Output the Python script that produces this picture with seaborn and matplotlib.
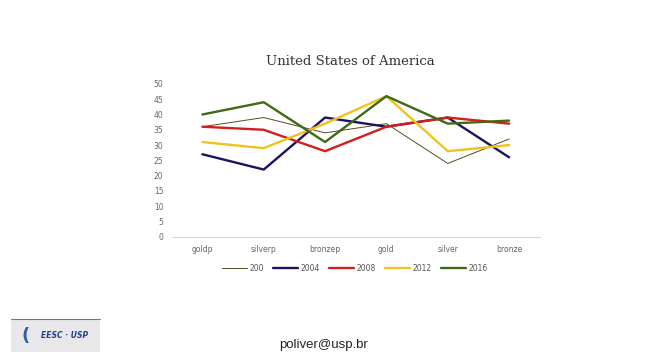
import matplotlib
matplotlib.use("Agg")
import matplotlib.pyplot as plt
import seaborn as sns
import pandas as pd
from matplotlib.patches import Rectangle

categories = ["goldp", "silverp", "bronzep", "gold", "silver", "bronze"]
series_names = ["200", "2004", "2008", "2012", "2016"]
v200 = [36, 39, 34, 37, 24, 32]
v2004 = [27, 22, 39, 36, 39, 26]
v2008 = [36, 35, 28, 36, 39, 37]
v2012 = [31, 29, 37, 46, 28, 30]
v2016 = [40, 44, 31, 46, 37, 38]
yticks = [0, 5, 10, 15, 20, 25, 30, 35, 40, 45, 50]

values = [v200, v2004, v2008, v2012, v2016]
rows = []
for name, vals in zip(series_names, values):
    for i, (c, v) in enumerate(zip(categories, vals)):
        rows.append({"pos": i, "cat": c, "series": name, "value": v})
df = pd.DataFrame(rows)

colors = ["#5a4a22", "#1c1260", "#d0201c", "#f2c21a", "#3e6a12"]
widths = [0.7, 1.7, 1.7, 1.7, 1.7]

sns.set_style("white")
fig = plt.figure(figsize=(6.48, 3.6), dpi=100)
ax = fig.add_axes([0.265, 0.342, 0.568, 0.425])

for name, col, lw in zip(series_names, colors, widths):
    sub = df[df["series"] == name]
    sns.lineplot(data=sub, x="pos", y="value", ax=ax, color=col, linewidth=lw,
                 label=name, legend=False)

ax.set_xlim(-0.5, 5.5)
ax.set_ylim(0, 50)
ax.set_yticks(yticks)
ax.set_yticklabels([str(t) for t in yticks], fontsize=5.5, color="#666666")
ax.set_xticks(range(len(categories)))
ax.set_xticklabels(categories, fontsize=5.5, color="#666666")
ax.tick_params(axis="both", length=0, pad=6)
ax.set_xlabel("")
ax.set_ylabel("")
for s in ["top", "right", "left"]:
    ax.spines[s].set_visible(False)
ax.spines["bottom"].set_color("#d9d9d9")
ax.spines["bottom"].set_linewidth(0.8)

handles, labels = ax.get_legend_handles_labels()
fig.legend(handles, labels, loc="center", bbox_to_anchor=(0.548, 0.255), ncol=5,
           frameon=False, fontsize=5.5, handlelength=3.2, columnspacing=1.2,
           handletextpad=0.4, labelcolor="#555555")

fig.text(0.54, 0.828, "United States of America", ha="center", va="center",
         fontsize=9.5, family="DejaVu Serif", color="#333333")

fig.text(0.50, 0.042, "poliver@usp.br", ha="center", va="center",
         fontsize=9.5, color="#222222", family="Liberation Sans")

# logo placeholder
fig.add_artist(Rectangle((0.017, 0.022), 0.138, 0.09, transform=fig.transFigure,
                         facecolor="#e8e8ea", edgecolor="none"))
fig.add_artist(plt.Line2D([0.017, 0.155], [0.115, 0.115], transform=fig.transFigure,
                          color="#777777", linewidth=0.8))
fig.text(0.1, 0.067, "EESC · USP", ha="center", va="center", fontsize=5.5,
         fontstyle="italic", fontweight="bold", color="#1f3f8f")
fig.text(0.04, 0.067, "(", ha="center", va="center", fontsize=13,
         fontweight="bold", color="#2f5fa0")

fig.savefig("out.png", dpi=100)
